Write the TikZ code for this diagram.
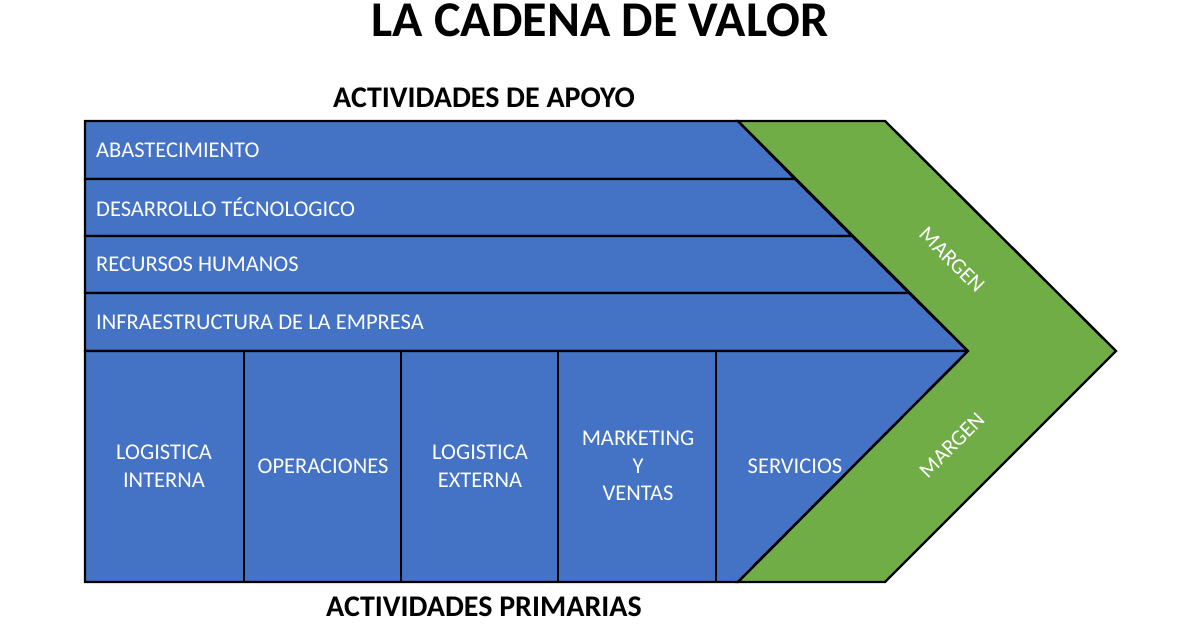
\documentclass[tikz,border=0pt]{standalone}
\usepackage{fontspec}
\setmainfont{Carlito}
\definecolor{vblue}{HTML}{4472C4}
\definecolor{vgreen}{HTML}{70AD47}
\tikzset{
  part/.style={fill=vblue, draw=black, line width=2.4pt, line join=miter},
  marg/.style={fill=vgreen, draw=black, line width=2.4pt, line join=miter},
  rowtxt/.style={text=white, font=\fontsize{22.5}{26}\selectfont, anchor=west, inner sep=0pt},
  coltxt/.style={text=white, font=\fontsize{22.5}{27.5}\selectfont, align=center, inner sep=0pt},
  margtxt/.style={text=white, font=\fontsize{22}{24}\selectfont, inner sep=0pt},
  head/.style={font=\bfseries\fontsize{30}{33}\selectfont, inner sep=0pt},
}
\begin{document}
\begin{tikzpicture}[x=1pt,y=-1pt]
\useasboundingbox (0,0) rectangle (1200,630);
\fill[white] (0,0) rectangle (1200,630);
% support rows
\draw[part] (85,121) -- (738,121) -- (795,179) -- (85,179) -- cycle;
\draw[part] (85,179) -- (795,179) -- (852,236) -- (85,236) -- cycle;
\draw[part] (85,236) -- (852,236) -- (909,293) -- (85,293) -- cycle;
\draw[part] (85,293) -- (909,293) -- (968,351) -- (85,351) -- cycle;
% primary area
\draw[part] (85,351) -- (968,351) -- (738,582) -- (85,582) -- cycle;
\draw[line width=2.4pt] (244,351) -- (244,582);
\draw[line width=2.4pt] (401,351) -- (401,582);
\draw[line width=2.4pt] (558,351) -- (558,582);
\draw[line width=2.4pt] (716,351) -- (716,582);
% margin chevron
\draw[marg] (738,121) -- (885,121) -- (1116,351) -- (885,582) -- (738,582) -- (968,351) -- cycle;
% texts
\node[font=\bfseries\fontsize{50}{54}\selectfont, inner sep=0pt] (title) at (600,20) {LA CADENA DE VALOR};
\node[head] (apoyo) at (484,98) {ACTIVIDADES DE APOYO};
\node[head] (prim) at (484,607) {ACTIVIDADES PRIMARIAS};
\node[rowtxt] (abas) at (96,150) {ABASTECIMIENTO};
\node[rowtxt] (desa) at (96,207) {DESARROLLO TÉCNOLOGICO};
\node[rowtxt] (recu) at (96,264) {RECURSOS HUMANOS};
\node[rowtxt] (infr) at (96,322) {INFRAESTRUCTURA DE LA EMPRESA};
\node[coltxt] (logi) at (164,466) {LOGISTICA\\INTERNA};
\node[coltxt] (oper) at (323,466) {OPERACIONES};
\node[coltxt] (loge) at (480,466) {LOGISTICA\\EXTERNA};
\node[coltxt] (mark) at (638,466) {MARKETING\\Y\\VENTAS};
\node[coltxt] (serv) at (795,466) {SERVICIOS};
\node[margtxt, rotate=-45] (m1) at (952,260) {MARGEN};
\node[margtxt, rotate=45] (m2) at (952,445) {MARGEN};
\end{tikzpicture}
\end{document}
